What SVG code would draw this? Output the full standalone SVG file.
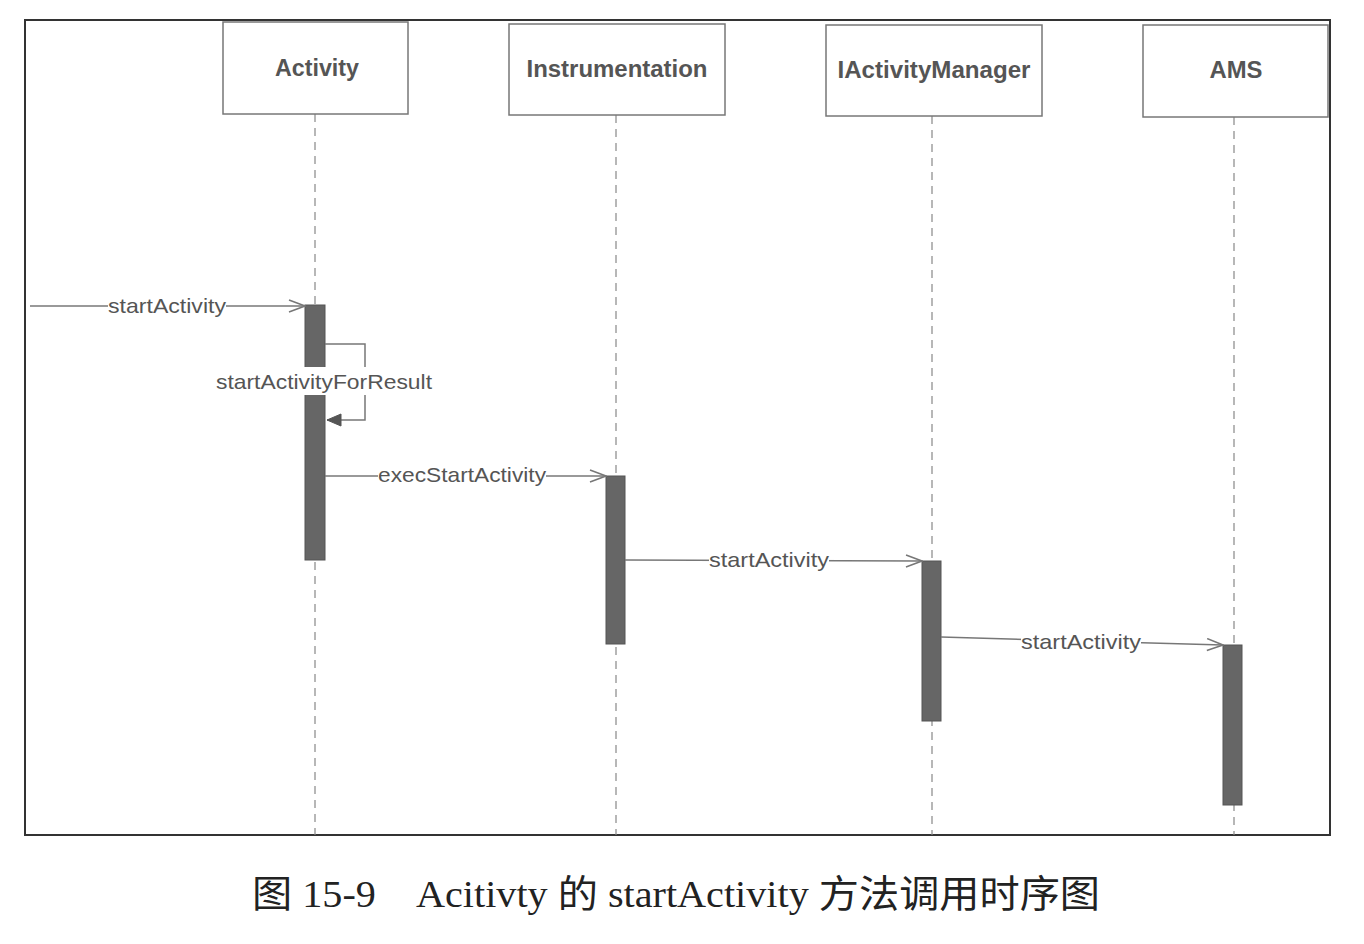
<svg xmlns="http://www.w3.org/2000/svg" width="1364" height="944" viewBox="0 0 1364 944">
<defs>
<style>
.frame{fill:none;stroke:#333;stroke-width:2}
.box{fill:#fff;stroke:#777;stroke-width:1.5}
.hd{font-family:"Liberation Sans",Arial,sans-serif;font-size:23px;font-weight:bold;fill:#555;text-anchor:middle}
.life{stroke:#888;stroke-width:1.2;stroke-dasharray:8 6;fill:none}
.bar{fill:#666;stroke:#555;stroke-width:1}
.msg{stroke:#777;stroke-width:1.5;fill:none}
.lbl{font-family:"Liberation Sans",Arial,sans-serif;font-size:21px;fill:#555;text-anchor:middle}
.cap{font-family:"Liberation Serif","Noto Sans CJK SC",serif;font-size:38px;fill:#222}
</style>
<marker id="open" markerWidth="18" markerHeight="14" refX="17" refY="7" orient="auto" markerUnits="userSpaceOnUse">
<path d="M1,1 L17,7 L1,13" fill="none" stroke="#777" stroke-width="1.5"/>
</marker>
<marker id="filled" markerWidth="16" markerHeight="14" refX="15" refY="7" orient="auto" markerUnits="userSpaceOnUse">
<path d="M1,1 L15,7 L1,13 Z" fill="#555" stroke="#555" stroke-width="1"/>
</marker>
</defs>
<rect width="1364" height="944" fill="#fff"/>
<rect class="frame" x="25" y="20" width="1305" height="815"/>

<g id="lifelines">
<line class="life" x1="315" y1="114" x2="315" y2="835"/>
<line class="life" x1="616" y1="115" x2="616" y2="835"/>
<line class="life" x1="932" y1="116" x2="932" y2="835"/>
<line class="life" x1="1234" y1="117" x2="1234" y2="835"/>
</g>

<g id="node-activity">
<rect class="box" x="223" y="22" width="185" height="92"/>
<text class="hd" x="317" y="76" textLength="84" lengthAdjust="spacingAndGlyphs">Activity</text>
</g>
<g id="node-instrumentation">
<rect class="box" x="509" y="24" width="216" height="91"/>
<text class="hd" x="617" y="77" textLength="181" lengthAdjust="spacingAndGlyphs">Instrumentation</text>
</g>
<g id="node-iactivitymanager">
<rect class="box" x="826" y="25" width="216" height="91"/>
<text class="hd" x="934" y="78" textLength="193" lengthAdjust="spacingAndGlyphs">IActivityManager</text>
</g>
<g id="node-ams">
<rect class="box" x="1143" y="25" width="185" height="92"/>
<text class="hd" x="1236" y="78" textLength="53" lengthAdjust="spacingAndGlyphs">AMS</text>
</g>

<g id="activations">
<rect class="bar" x="305" y="305" width="20" height="255"/>
<rect class="bar" x="606" y="476" width="19" height="168"/>
<rect class="bar" x="922" y="561" width="19" height="160"/>
<rect class="bar" x="1223" y="645" width="19" height="160"/>
</g>

<g id="connectors">
<line class="msg" x1="30" y1="306" x2="305" y2="306" marker-end="url(#open)"/>
<path class="msg" d="M325,344 H365 V420 H327" marker-end="url(#filled)"/>
<line class="msg" x1="325" y1="476" x2="606" y2="476" marker-end="url(#open)"/>
<line class="msg" x1="625" y1="560" x2="922" y2="561" marker-end="url(#open)"/>
<line class="msg" x1="941" y1="637" x2="1223" y2="645" marker-end="url(#open)"/>
</g>

<g id="labels">
<rect x="108" y="295" width="118" height="22" fill="#fff"/>
<text class="lbl" x="167" y="313" textLength="118" lengthAdjust="spacingAndGlyphs">startActivity</text>
<rect x="214" y="367" width="220" height="28" fill="#fff"/>
<text class="lbl" x="324" y="389" textLength="216" lengthAdjust="spacingAndGlyphs">startActivityForResult</text>
<rect x="378" y="465" width="168" height="22" fill="#fff"/>
<text class="lbl" x="462" y="482" textLength="168" lengthAdjust="spacingAndGlyphs">execStartActivity</text>
<rect x="709" y="549" width="120" height="22" fill="#fff"/>
<text class="lbl" x="769" y="567" textLength="120" lengthAdjust="spacingAndGlyphs">startActivity</text>
<rect x="1021" y="631" width="120" height="22" fill="#fff"/>
<text class="lbl" x="1081" y="649" textLength="120" lengthAdjust="spacingAndGlyphs">startActivity</text>
</g>

<text class="cap" x="252" y="907" textLength="848" lengthAdjust="spacingAndGlyphs">图 15-9　Acitivty 的 startActivity 方法调用时序图</text>
</svg>
